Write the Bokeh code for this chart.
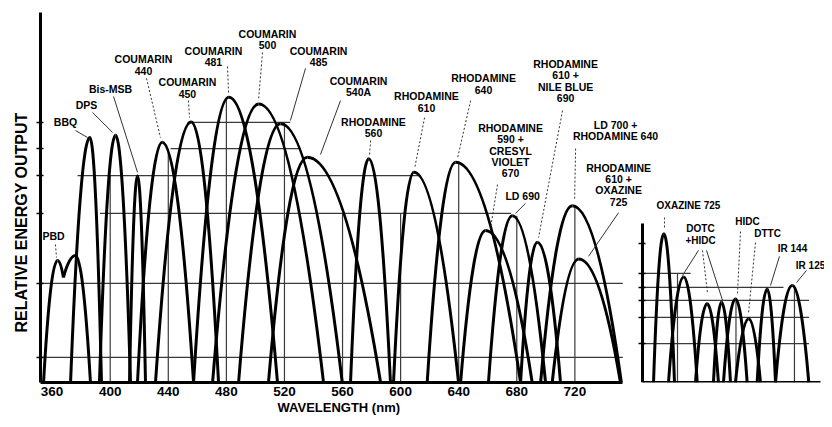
from bokeh.plotting import figure
from bokeh.models import Range1d, LinearAxis, FixedTicker, Title
from bokeh.embed import file_html
from bokeh.resources import INLINE
from bokeh.core.properties import value

FONT = "Liberation Sans"

# ---------------- main panel data (wavelength nm, relative output) ----------------
dye_names = ["BBQ", "DPS", "Bis-MSB", "COUMARIN 440", "COUMARIN 450", "COUMARIN 481",
             "COUMARIN 500", "COUMARIN 485", "COUMARIN 540A", "RHODAMINE 560",
             "RHODAMINE 610", "RHODAMINE 640", "RHODAMINE 590 + CRESYL VIOLET 670",
             "LD 690", "RHODAMINE 610 + NILE BLUE 690", "LD 700 + RHODAMINE 640",
             "RHODAMINE 610 + OXAZINE 725"]
dye_start = [372.7, 392.6, 413.3, 418.8, 431.2, 457.4, 470.5, 488.4, 509.0, 565.5,
             595.1, 618.3, 641.3, 660.5, 682.6, 696.4, 704.4]
dye_peak = [386.0, 403.7, 418.8, 435.8, 455.8, 481.7, 502.3, 517.3, 535.7, 578.1,
            609.1, 637.8, 658.5, 676.9, 694.1, 718.2, 722.7]
dye_height = [66.2, 66.8, 55.9, 64.9, 70.4, 77.1, 75.3, 69.9, 60.9, 60.5,
              56.8, 59.5, 41.1, 45.1, 37.9, 47.8, 33.4]
dye_end = [394.0, 414.0, 424.3, 457.4, 474.6, 515.2, 546.9, 559.8, 586.2, 593.0,
           639.9, 682.6, 690.6, 699.8, 710.1, 752.0, 751.4]

# PBD has a double-humped curve
pbd_nm = [354.1, 363.7, 367.8, 376.1, 386.4]
pbd_h = [0.0, 33.0, 28.4, 34.3, 0.0]

# ---------------- infrared panel data ----------------
ir_names = ["OXAZINE 725", "DOTC", "HIDC a", "HIDC b", "HIDC", "DTTC", "IR 144", "IR 125"]
ir_start = [727.2, 747.7, 784.6, 809.2, 822.9, 839.3, 869.0, 894.1]
ir_peak = [741.3, 768.6, 800.6, 820.2, 839.3, 857.5, 882.7, 916.9]
ir_height = [40.2, 28.5, 21.3, 21.7, 22.6, 17.2, 25.3, 26.2]
ir_end = [755.9, 787.0, 816.0, 832.5, 855.3, 873.5, 894.1, 939.6]

# ---------------- axes / grid ----------------
main_ticks = [360, 400, 440, 480, 520, 560, 600, 640, 680, 720]
ir_ticks = [760, 840, 920]
main_levels = [6.8, 26.8, 45.7, 55.9, 63.2, 70.3]
main_level_from = [352.0, 352.0, 393.0, 377.5, 441.6, 453.3]
main_level_to = [753.0, 753.0, 676.0, 614.0, 531.0, 524.0]
main_vgrid = [400, 440, 480, 520, 560, 600, 640, 680, 720]
main_vgrid_top = [56.0, 63.2, 77.1, 70.3, 45.7, 45.7, 59.5, 45.1, 47.8]
ir_tick_levels = [37.6, 29.5, 25.7, 22.2, 17.6, 10.5]
ir_levels = [29.5, 25.7, 22.2, 17.6, 10.5]
ir_level_to = [778.0, 905.0, 940.0, 940.0, 940.0]
ir_vgrid = [760, 840, 920]
ir_vgrid_top = [29.5, 22.6, 26.2]

x_title = "WAVELENGTH (nm)"
y_title = "RELATIVE ENERGY OUTPUT"

# ---------------- annotation labels ----------------
main_labels = ["PBD", "BBQ", "DPS", "Bis-MSB", "COUMARIN\n440", "COUMARIN\n450",
               "COUMARIN\n481", "COUMARIN\n500", "COUMARIN\n485", "COUMARIN\n540A",
               "RHODAMINE\n560", "RHODAMINE\n610", "RHODAMINE\n640",
               "RHODAMINE\n590 +\nCRESYL\nVIOLET\n670", "LD 690",
               "RHODAMINE\n610 +\nNILE BLUE\n690", "LD 700 +\nRHODAMINE 640",
               "RHODAMINE\n610 +\nOXAZINE\n725"]
main_label_x = [361.0, 369.2, 383.7, 400.2, 422.9, 453.2, 471.1, 508.3, 543.5, 571.0,
                581.3, 617.8, 657.1, 675.7, 684.0, 713.6, 748.0, 750.1]
main_label_y = [39.5, 70.3, 74.9, 79.2, 87.3, 81.1, 89.7, 94.3, 89.7, 81.6,
                70.5, 77.3, 82.2, 68.9, 50.5, 86.2, 69.7, 58.1]

main_leader_x0 = [362.3, 376.1, 387.8, 402.3, 425.0, 453.9, 480.8, 504.9, 534.5, 558.6,
                  579.3, 616.5, 648.2, 666.7, 686.0, 711.5, 720.5, 750.1]
main_leader_y0 = [37.3, 68.1, 73.0, 77.3, 82.2, 76.2, 85.4, 89.2, 84.9, 76.2,
                  65.4, 71.6, 76.2, 53.5, 48.4, 73.5, 63.2, 45.9]
main_leader_x1 = [363.0, 384.4, 401.6, 418.8, 434.6, 454.6, 481.5, 502.1, 524.1, 544.8,
                  578.6, 609.6, 639.3, 661.9, 679.1, 695.0, 719.8, 729.4]
main_leader_y1 = [33.8, 66.2, 67.6, 56.8, 66.2, 71.6, 78.1, 76.2, 70.8, 61.6,
                  61.4, 57.8, 60.8, 41.6, 45.7, 39.2, 49.2, 34.1]
main_leader_dotted = [True, False, False, False, True, True, True, True, False, False,
                      True, True, True, True, False, True, True, False]

ir_labels = ["OXAZINE 725", "DOTC\n+HIDC", "HIDC", "DTTC", "IR 144", "IR 125"]
ir_label_x = [775.0, 791.5, 855.8, 883.2, 917.3, 942.0]
ir_label_y = [47.8, 41.6, 43.5, 40.3, 36.2, 31.6]

ir_leader_x0 = [742.2, 788.7, 794.2, 799.7, 846.2, 866.7, 899.5, 936.5]
ir_leader_y0 = [44.6, 35.7, 35.7, 35.7, 40.8, 37.8, 34.1, 30.3]
ir_leader_x1 = [742.2, 766.8, 801.0, 821.6, 842.1, 857.1, 887.2, 922.8]
ir_leader_y1 = [41.6, 28.9, 24.3, 22.2, 24.1, 18.6, 26.2, 27.0]
ir_leader_dotted = [True, False, True, False, True, True, False, False]

# ---------------- figure ----------------
p = figure(width=824, height=422, x_range=Range1d(352.0, 891.9), y_range=Range1d(0, 100),
           output_backend="svg", toolbar_location=None,
           min_border_left=40, min_border_right=0, min_border_top=12, min_border_bottom=40)
p.extra_x_ranges = {"ir": Range1d(-111.4, 961.1)}
p.grid.visible = False
p.outline_line_color = None
p.background_fill_color = "white"
p.border_fill_color = "white"


def style_level_axis(ax, ticks):
    ax.ticker = FixedTicker(ticks=ticks)
    ax.major_label_text_font_size = "0px"
    ax.major_label_text_color = None
    ax.major_label_standoff = 0
    ax.major_tick_in = 3
    ax.major_tick_out = 4
    ax.major_tick_line_width = 1.5
    ax.minor_tick_line_color = None
    ax.axis_line_width = 3


def style_wave_axis(ax, ticks):
    ax.ticker = FixedTicker(ticks=ticks)
    ax.major_tick_in = 0
    ax.major_tick_out = 0
    ax.minor_tick_line_color = None
    ax.axis_line_width = 3
    ax.major_label_standoff = 4
    ax.major_label_text_font = FONT
    ax.major_label_text_font_style = "bold"
    ax.major_label_text_font_size = "13.5px"
    ax.major_label_text_color = "black"


# main axes
style_level_axis(p.yaxis[0], main_levels)
style_wave_axis(p.xaxis[0], main_ticks)
p.xaxis[0].bounds = (352.0, 753.0)

# infrared panel axes
ir_x = LinearAxis(x_range_name="ir", fixed_location=0, bounds=(712.6, 955.6))
style_wave_axis(ir_x, ir_ticks)
p.add_layout(ir_x, "below")

ir_y = LinearAxis(x_range_name="ir", fixed_location=712.6, bounds=(0, 43))
style_level_axis(ir_y, ir_tick_levels)
p.add_layout(ir_y, "left")

# axis titles (as side titles so they can be placed off-centre)
p.add_layout(Title(text=x_title, align="left", offset=237, vertical_align="top",
                   standoff=2, text_font=FONT, text_font_style="bold",
                   text_font_size="13px", text_color="black"), "below")
p.add_layout(Title(text=y_title, align="left", offset=50, vertical_align="bottom",
                   standoff=14, text_font=FONT, text_font_style="bold",
                   text_font_size="16px", text_color="black"), "left")

GRID = "#3a3a3a"
# grid lines
p.segment(x0=main_level_from, y0=main_levels, x1=main_level_to, y1=main_levels,
          line_color=GRID, line_width=1.2)
p.segment(x0=main_vgrid, y0=[0] * len(main_vgrid), x1=main_vgrid, y1=main_vgrid_top,
          line_color=GRID, line_width=1.2)
p.segment(x0=[712.6] * len(ir_levels), y0=ir_levels, x1=ir_level_to, y1=ir_levels,
          line_color=GRID, line_width=1.2, x_range_name="ir")
p.segment(x0=ir_vgrid, y0=[0] * len(ir_vgrid), x1=ir_vgrid, y1=ir_vgrid_top,
          line_color=GRID, line_width=1.2, x_range_name="ir")


def arcs(xs, hs):
    """Parabolic arcs between consecutive nodes (vertex at the higher node)."""
    out = dict(x0=[], y0=[], x1=[], y1=[], cx=[], cy=[])
    for i in range(len(xs) - 1):
        out["x0"].append(xs[i]); out["y0"].append(hs[i])
        out["x1"].append(xs[i + 1]); out["y1"].append(hs[i + 1])
        out["cx"].append((xs[i] + xs[i + 1]) / 2.0)
        out["cy"].append(max(hs[i], hs[i + 1]))
    return out


def curve_set(starts, peaks, heights, ends):
    allc = dict(x0=[], y0=[], x1=[], y1=[], cx=[], cy=[])
    for s, pk, h, e in zip(starts, peaks, heights, ends):
        a = arcs([s, pk, e], [0.0, h, 0.0])
        for k in allc:
            allc[k].extend(a[k])
    return allc


main_c = curve_set(dye_start, dye_peak, dye_height, dye_end)
pb = arcs(pbd_nm, pbd_h)
for k in main_c:
    main_c[k].extend(pb[k])
p.quadratic(**main_c, line_color="black", line_width=3)

ir_c = curve_set(ir_start, ir_peak, ir_height, ir_end)
p.quadratic(**ir_c, line_color="black", line_width=3, x_range_name="ir")


# leaders
def leaders(x0, y0, x1, y1, dotted, **kw):
    sel = [i for i, d in enumerate(dotted) if d]
    sol = [i for i, d in enumerate(dotted) if not d]
    p.segment(x0=[x0[i] for i in sel], y0=[y0[i] for i in sel],
              x1=[x1[i] for i in sel], y1=[y1[i] for i in sel],
              line_color="#333333", line_width=1, line_dash="2 2", **kw)
    p.segment(x0=[x0[i] for i in sol], y0=[y0[i] for i in sol],
              x1=[x1[i] for i in sol], y1=[y1[i] for i in sol],
              line_color="#333333", line_width=1, **kw)


leaders(main_leader_x0, main_leader_y0, main_leader_x1, main_leader_y1, main_leader_dotted)
leaders(ir_leader_x0, ir_leader_y0, ir_leader_x1, ir_leader_y1, ir_leader_dotted,
        x_range_name="ir")

LINE_STEP = 3.1


def label_lines(texts, xs, ys):
    tx, ty, tt = [], [], []
    for t, x, y in zip(texts, xs, ys):
        for j, line in enumerate(t.split("\n")):
            tx.append(x); ty.append(y - j * LINE_STEP); tt.append(line)
    return tx, ty, tt


mx, my, mt = label_lines(main_labels, main_label_x, main_label_y)
p.text(x=mx, y=my, text=mt, text_font=value(FONT), text_font_style="bold",
       text_font_size="10.5px", text_align="center", text_baseline="middle",
       text_color="black")
ix, iy, it = label_lines(ir_labels, ir_label_x, ir_label_y)
p.text(x=ix, y=iy, text=it, text_font=value(FONT), text_font_style="bold",
       text_font_size="10px", text_align="center", text_baseline="middle",
       text_color="black", x_range_name="ir")

open("out.html", "w").write(file_html(p, INLINE))
